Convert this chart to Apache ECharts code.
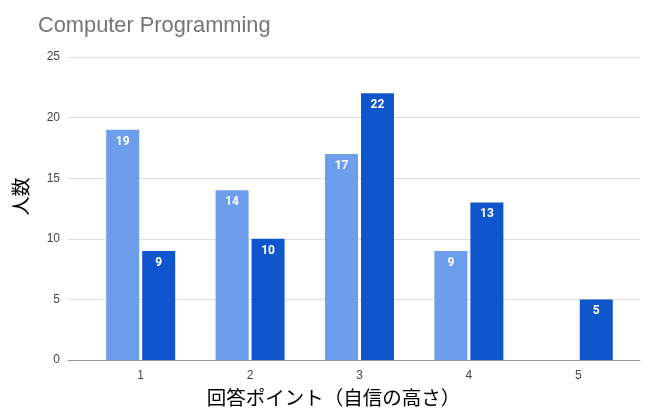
<!DOCTYPE html>
<html><head><meta charset="utf-8">
<script src="https://cdn.jsdelivr.net/npm/echarts@6/dist/echarts.min.js"></script>
<style>html,body{margin:0;padding:0;background:#fff}#c{width:649px;height:408px}</style>
</head><body><div id="c"></div>
<script>
const categories = ['1', '2', '3', '4', '5'];
const seriesA = [19, 14, 17, 9, null];
const seriesB = [9, 10, 22, 13, 5];
const yTicks = [0, 5, 10, 15, 20, 25];
const titleText = 'Computer Programming';
const xName = '回答ポイント（自信の高さ）';
const yName = '人数';

const chart = echarts.init(document.getElementById('c'), null, {renderer: 'canvas'});
const lbl = {show: true, position: 'insideTop', color: '#fff', fontSize: 12, fontWeight: 'bold', fontFamily: 'Roboto, Arial, sans-serif', distance: 6};
chart.setOption({
  animation: false,
  title: {text: titleText, left: 33, top: 10, textStyle: {color: '#757575', fontSize: 21.8, fontWeight: 'normal', fontFamily: 'Liberation Sans, Arial, sans-serif'}},
  grid: [
    {left: 68, right: 9, top: 57, bottom: 48, outerBoundsMode: 'none', containLabel: false},
    {left: 86, right: 16, top: 57, bottom: 48, outerBoundsMode: 'none', containLabel: false}
  ],
  xAxis: [
    {gridIndex: 0, type: 'value', min: 0, max: 1, axisLine: {show: true, onZero: false, lineStyle: {color: '#999', width: 1}}, axisTick: {show: false}, axisLabel: {show: false}, splitLine: {show: false}},
    {gridIndex: 1, type: 'category', data: categories, axisLine: {show: false}, axisTick: {show: false},
     axisLabel: {color: '#444', fontSize: 12, margin: 10, fontFamily: 'Liberation Sans, Arial, sans-serif'},
     name: xName, nameLocation: 'middle', nameGap: 28, nameTextStyle: {color: '#000', fontSize: 19.5, fontFamily: 'Noto Sans CJK JP', padding: [0, 52, 0, 0]}}
  ],
  yAxis: [
    {gridIndex: 0, type: 'value', min: yTicks[0], max: yTicks[yTicks.length-1], interval: 5,
     axisLine: {show: false}, axisTick: {show: false},
     axisLabel: {color: '#444', fontSize: 12, margin: 8, fontFamily: 'Liberation Sans, Arial, sans-serif'},
     splitLine: {lineStyle: {color: '#ddd', width: 1}},
     name: yName, nameLocation: 'middle', nameGap: 38, nameRotate: 90, nameTextStyle: {color: '#000', fontSize: 19, fontFamily: 'Noto Sans CJK JP', padding: [0, 0, 0, 24]}},
    {gridIndex: 1, type: 'value', min: 0, max: 25, interval: 5, show: false}
  ],
  series: [
    {type: 'bar', xAxisIndex: 1, yAxisIndex: 1, data: seriesA, barWidth: 33, barGap: '9%', itemStyle: {color: '#6d9eeb'}, label: lbl},
    {type: 'bar', xAxisIndex: 1, yAxisIndex: 1, data: seriesB, barWidth: 33, barGap: '9%', itemStyle: {color: '#1155cc'}, label: lbl}
  ]
});
</script></body></html>
